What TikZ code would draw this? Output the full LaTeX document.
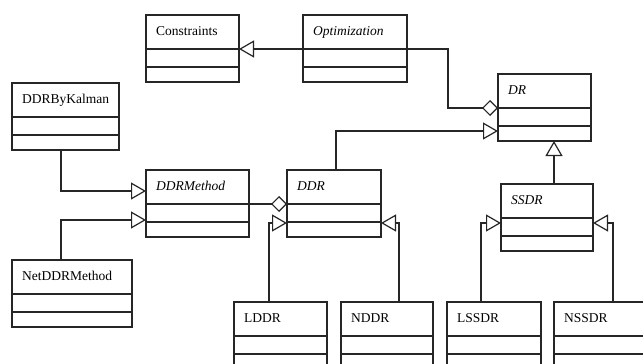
\documentclass[tikz,border=0pt]{standalone}
\usepackage{fontspec}
\setmainfont{Liberation Serif}
\usetikzlibrary{arrows.meta}
\colorlet{ink}{black!85}
\tikzset{
  cls/.style={draw=ink, line width=1.2pt, inner sep=0pt, outer sep=0pt, minimum height=67pt},
  ttl/.style={inner sep=0pt, anchor=base west, text=black, font=\fontsize{13.5}{16}\selectfont},
  conn/.style={draw=ink, line width=1.2pt},
  gen/.style={conn, -{Triangle[open, length=15pt, width=17pt, line width=1.2pt]}},
  agg/.style={conn, -{Diamond[open, length=16pt, width=16pt, line width=1.2pt]}},
}
% name, x, y (top-left), width, title
\newcommand\umlbox[5]{%
  \node[cls, minimum width=#4pt, anchor=north west] (#1) at (#2,#3) {};
  \coordinate (#1-d1w) at ([yshift=-34pt]#1.north west);
  \coordinate (#1-d1e) at ([yshift=-34pt]#1.north east);
  \coordinate (#1-d2w) at ([yshift=-52pt]#1.north west);
  \coordinate (#1-d2e) at ([yshift=-52pt]#1.north east);
  \draw[conn] (#1-d1w) -- (#1-d1e);
  \draw[conn] (#1-d2w) -- (#1-d2e);
  \node[ttl] (#1-t) at ([xshift=10pt,yshift=-20pt]#1.north west) {#5};
}
\begin{document}
\begin{tikzpicture}[x=1pt,y=-1pt]
\clip (0,0) rectangle (643,364);
\fill[white] (0,0) rectangle (643,364);

\umlbox{cons}{146}{15}{93}{Constraints}
\umlbox{opt}{303}{15}{104}{\itshape Optimization}
\umlbox{dr}{498}{74}{93}{\itshape DR}
\umlbox{kal}{12}{83}{107}{DDRByKalman}
\umlbox{ddrm}{146}{170}{103}{\itshape DDRMethod}
\umlbox{ddr}{287}{170}{94}{\itshape DDR}
\umlbox{ssdr}{501}{184}{92}{\itshape SSDR}
\umlbox{net}{12}{260}{120}{NetDDRMethod}
\umlbox{lddr}{234}{302}{93}{LDDR}
\umlbox{nddr}{341}{302}{92}{NDDR}
\umlbox{lssdr}{447}{302}{94}{LSSDR}
\umlbox{nssdr}{554}{302}{94}{NSSDR}

% connectors
\draw[gen] (opt-d1w) -- (cons-d1e);
\draw[agg] (opt-d1e) -- ++(41,0) |- (dr-d1w);
\draw[gen] ([xshift=2pt]ddr.north) |- ([yshift=10pt]dr.south west);
\draw[gen] ([xshift=7pt]ssdr.north) -- ([xshift=7pt]ssdr.north |- dr.south);
\draw[gen] ([xshift=-4.5pt]kal.south) |- ([yshift=-21pt]ddrm.north west);
\draw[gen] ([xshift=-11pt]net.north) |- ([yshift=-50pt]ddrm.north west);
\draw[agg] (ddrm-d1e) -- (ddr-d1w);
\draw[gen] ([xshift=-11.5pt]lddr.north) |- ([yshift=-53pt]ddr.north west);
\draw[gen] ([xshift=12pt]nddr.north) |- ([yshift=-53pt]ddr.north east);
\draw[gen] ([xshift=-13pt]lssdr.north) |- ([yshift=-39pt]ssdr.north west);
\draw[gen] ([xshift=12pt]nssdr.north) |- ([yshift=-39pt]ssdr.north east);
\end{tikzpicture}
\end{document}
